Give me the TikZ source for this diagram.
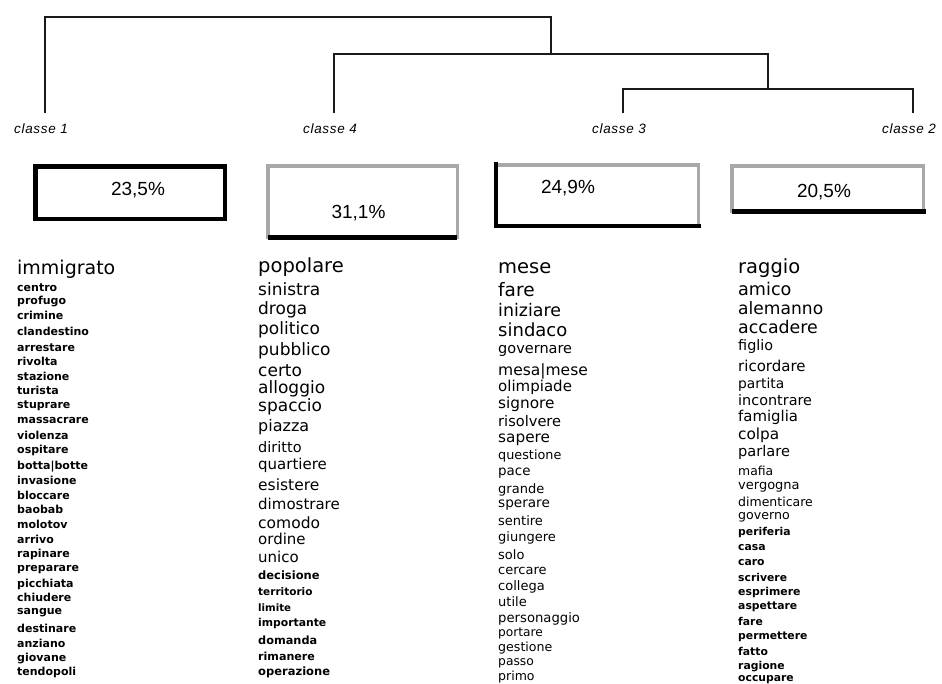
\documentclass[tikz,border=0pt]{standalone}
\usepackage{fontspec}
\setmainfont{DejaVu Sans}
\newfontfamily\pctfont{Liberation Sans}
\newfontfamily\lblfont[LetterSpace=5]{Liberation Sans}
\usetikzlibrary{positioning,calc}
\definecolor{dendLine}{HTML}{1A1A1A}
\definecolor{boxGrey}{HTML}{A8A8A8}
\def\wserm{\mdseries}
\def\wserb{\bfseries}

\begin{document}
\begin{tikzpicture}[x=1pt,y=-1pt,
  dend/.style={draw=dendLine, line width=1.6pt},
  classlbl/.style={font=\lblfont\itshape\fontsize{13.5}{13.5}\selectfont, inner sep=0pt},
  pbox/.style={draw=boxGrey, line width=3.5pt, fill=white, outer sep=0pt, inner sep=0pt},
  pbase/.style={draw=black, line width=5pt},
  pct/.style={font=\pctfont\fontsize{19}{19}\selectfont, inner sep=0pt},
  word/.style={anchor=mid west, inner sep=0pt}]

\useasboundingbox (0,0) rectangle (942,683);
\clip (0,0) rectangle (942,683);

% --- PARAMETERS ---
\def\yLeaf{113}         % bottom of the dendrogram legs
\def\xA{17}             % left edge of each word column
\def\xB{258}
\def\xC{498}
\def\xD{738}

% word/y/size/series
\def\colA{%
  immigrato/272/19/m,%
  centro/289/11/b,profugo/302/11/b,crimine/317/11/b,%
  clandestino/333/11/b,arrestare/349/11/b,rivolta/363/11/b,%
  stazione/378/11/b,turista/392/11/b,stuprare/406/11/b,%
  massacrare/421/11/b,violenza/437/11/b,ospitare/451/11/b,%
  botta|botte/467/11/b,invasione/482/11/b,bloccare/497/11/b,%
  baobab/511/11/b,molotov/526/11/b,arrivo/541/11/b,%
  rapinare/555/11/b,preparare/569/11/b,picchiata/585/11/b,%
  chiudere/599/11/b,sangue/612/11/b,destinare/630/11/b,%
  anziano/645/11/b,giovane/659/11/b,tendopoli/673/11/b%
}
\def\colB{%
  popolare/270/19.5/m,sinistra/293/17/m,droga/312/17/m,%
  politico/332/17/m,pubblico/353/17/m,certo/374/17/m,%
  alloggio/391/17/m,spaccio/409/17/m,piazza/429/16/m,%
  diritto/450/14.5/m,quartiere/467/15/m,esistere/488/15.5/m,%
  dimostrare/507/15/m,comodo/526/15.5/m,ordine/542/15/m,%
  unico/560/15/m,decisione/577/11.5/b,territorio/593/10.5/b,%
  limite/609/10.2/b,importante/624/10.8/b,domanda/642/11.3/b,%
  rimanere/658/11.1/b,operazione/673/11.5/b%
}
\def\colC{%
  mese/271/19.5/m,fare/294/18.5/m,iniziare/314/17.4/m,%
  sindaco/334/18/m,governare/351/14.5/m,mesa|mese/373/15.5/m,%
  olimpiade/389/15/m,signore/406/15.3/m,risolvere/424/14.6/m,%
  sapere/440/15.3/m,questione/457/12.8/m,pace/473/13.4/m,%
  grande/491/13/m,sperare/505/13.6/m,sentire/523/13/m,%
  giungere/539/13/m,solo/557/13/m,cercare/572/13/m,%
  collega/588/13/m,utile/604/13/m,personaggio/620/13.2/m,%
  portare/634/12.2/m,gestione/649/12.6/m,passo/663/12.3/m,%
  primo/678/12.5/m%
}
\def\colD{%
  raggio/271/19.5/m,amico/293/17.6/m,alemanno/312/17.1/m,%
  accadere/331/17.4/m,figlio/348/14.4/m,ricordare/369/15/m,%
  partita/386/13.8/m,incontrare/403/14.4/m,famiglia/419/14.9/m,%
  colpa/437/15.3/m,parlare/454/14.6/m,mafia/473/12.4/m,%
  vergogna/487/13/m,dimenticare/504/12.5/m,governo/517/12.6/m,%
  periferia/533/10.8/b,casa/548/10.8/b,caro/563/10.8/b,%
  scrivere/579/10.8/b,esprimere/593/10.9/b,aspettare/607/10.8/b,%
  fare/623/10.8/b,permettere/637/10.8/b,fatto/653/10.8/b,%
  ragione/667/10.8/b,occupare/679/10.8/b%
}

% --- DENDROGRAM ---
\foreach \n/\x in {1/45,4/334,3/623,2/913} {
  \coordinate (l\n) at (\x,\yLeaf);
  \node[classlbl, below=11pt of l\n, xshift=-4pt] (c\n) {classe \n};
}
\coordinate (k32) at (768,89);
\coordinate (k432) at (551,54);
\coordinate (kroot) at (298,17);
\draw[dend] (l3) |- (k32) -| (l2);
\draw[dend] (l4) |- (k432) -| (k32);
\draw[dend] (l1) |- (kroot) -| (k432);

% --- PERCENT BOXES ---
\node[pbox, draw=black, line width=4.5pt, minimum width=189.5pt, minimum height=52.5pt] (b1) at (130,192.5) {};
\node[pbox, minimum width=189.5pt, minimum height=71.5pt] (b2) at (362.5,201.5) {};
\node[pbox, minimum width=202.5pt, minimum height=61.5pt] (b3) at (597,195.5) {};
\node[pbox, minimum width=191.5pt, minimum height=45.5pt] (b4) at (827.5,188.5) {};
\draw[pbase] (b2.south west) -- (b2.south east);
\draw[pbase, line width=4pt] ($(b3.north west)+(0,-3)$) -- (b3.south west) -- ($(b3.south east)+(3,0)$);
\draw[pbase] (b4.south west) -- ($(b4.south east)+(3,0)$);

\node[pct] (p1) at ($(b1.center)+(8,-2.5)$) {23,5\%};
\node[pct] (p2) at ($(b2.center)+(-4,11.5)$) {31,1\%};
\node[pct] (p3) at ($(b3.center)+(-29,-7.5)$) {24,9\%};
\node[pct] (p4) at ($(b4.center)+(-3.5,3.5)$) {20,5\%};

% --- WORD COLUMNS ---
\foreach [count=\i] \w/\y/\s/\f in \colA {
  \node[word, font={\fontsize{\s}{\s}\selectfont\csname wser\f\endcsname}] (a\i) at (\xA,\y) {\w};
}
\foreach [count=\i] \w/\y/\s/\f in \colB {
  \node[word, font={\fontsize{\s}{\s}\selectfont\csname wser\f\endcsname}] (b\i) at (\xB,\y) {\w};
}
\foreach [count=\i] \w/\y/\s/\f in \colC {
  \node[word, font={\fontsize{\s}{\s}\selectfont\csname wser\f\endcsname}] (c\i) at (\xC,\y) {\w};
}
\foreach [count=\i] \w/\y/\s/\f in \colD {
  \node[word, font={\fontsize{\s}{\s}\selectfont\csname wser\f\endcsname}] (d\i) at (\xD,\y) {\w};
}

\end{tikzpicture}
\end{document}
